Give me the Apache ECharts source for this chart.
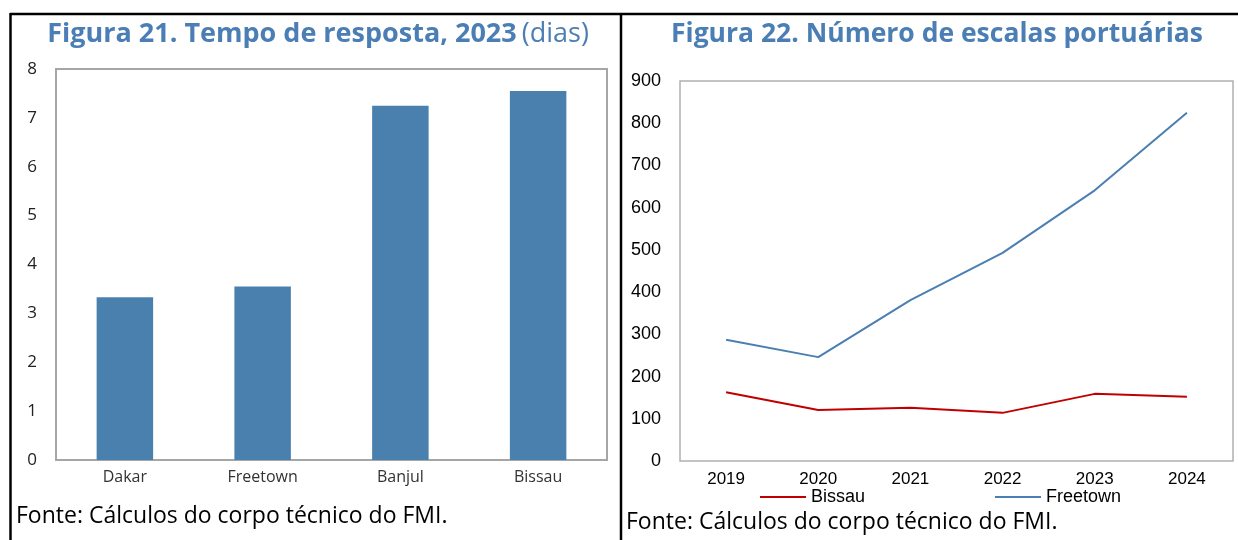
<!DOCTYPE html>
<html>
<head>
<meta charset="utf-8">
<script src="https://cdn.jsdelivr.net/npm/echarts@6/dist/echarts.min.js"></script>
<style>
  html, body { margin: 0; padding: 0; background: #fff; }
  #chart { width: 1238px; height: 540px; }
</style>
</head>
<body>
<div id="chart"></div>
<script>
// Figura 21: tempo de resposta (dias)
const portos = ["Dakar", "Freetown", "Banjul", "Bissau"];
const diasResposta = [3.33, 3.55, 7.25, 7.55];
const ticksDias = [0, 8, 1];

// Figura 22: escalas portuárias
const anos = ["2019", "2020", "2021", "2022", "2023", "2024"];
const escalasBissau = [163, 121, 126, 114, 159, 152];
const escalasFreetown = [287, 246, 381, 493, 641, 825];
const ticksEscalas = [0, 900, 100];

const azulTitulo = "#4a7eb4";
const fonteUI = "'Open Sans', 'Noto Sans', sans-serif";
const fonteArial = "'Liberation Sans', Arial, sans-serif";
const nota = "Fonte: Cálculos do corpo técnico do FMI.";

const chart = echarts.init(document.getElementById("chart"));

const option = {
  animation: false,
  backgroundColor: "#fff",
  title: [
    {
      text: "{b|Figura 21. Tempo de resposta, 2023} {n|(dias)}",
      left: 313, top: 16, textAlign: "center",
      textStyle: {
        rich: {
          b: { fontFamily: fonteUI, fontSize: 27, fontWeight: "bold", color: azulTitulo },
          n: { fontFamily: fonteUI, fontSize: 27, fontWeight: "normal", color: azulTitulo }
        }
      }
    },
    {
      text: "Figura 22. Número de escalas portuárias",
      left: 932, top: 16, textAlign: "center",
      textStyle: { fontFamily: fonteUI, fontSize: 26.5, fontWeight: "bold", color: azulTitulo }
    }
  ],
  legend: [
    {
      data: ["Bissau"], left: 755, top: 483,
      icon: "rect", itemWidth: 46, itemHeight: 2,
      textStyle: { fontFamily: fonteArial, fontSize: 18, color: "#000" }
    },
    {
      data: ["Freetown"], left: 990, top: 483,
      icon: "rect", itemWidth: 46, itemHeight: 2,
      textStyle: { fontFamily: fonteArial, fontSize: 18, color: "#000" }
    }
  ],
  grid: [
    { left: 56, top: 69, right: 631, bottom: 80, show: true, borderColor: "#a6a6a6", borderWidth: 2, backgroundColor: "#fff" },
    { left: 680, top: 81, right: 5, bottom: 79, show: true, borderColor: "#b0b0b0", borderWidth: 1.5, backgroundColor: "#fff" }
  ],
  xAxis: [
    {
      gridIndex: 0, type: "category", data: portos,
      axisLine: { show: false }, axisTick: { show: false },
      axisLabel: { fontFamily: fonteUI, fontSize: 16, color: "#333", margin: 9 }
    },
    {
      gridIndex: 1, type: "category", data: anos,
      axisLine: { show: false }, axisTick: { show: false },
      axisLabel: { fontFamily: fonteArial, fontSize: 17, color: "#000", margin: 10 }
    }
  ],
  yAxis: [
    {
      gridIndex: 0, type: "value", min: ticksDias[0], max: ticksDias[1], interval: ticksDias[2],
      axisLine: { show: false }, axisTick: { show: false }, splitLine: { show: false },
      axisLabel: { fontFamily: fonteUI, fontSize: 17, color: "#222", margin: 19 }
    },
    {
      gridIndex: 1, type: "value", min: ticksEscalas[0], max: ticksEscalas[1], interval: ticksEscalas[2],
      axisLine: { show: false }, axisTick: { show: false }, splitLine: { show: false },
      axisLabel: { fontFamily: fonteArial, fontSize: 18, color: "#000", margin: 19 }
    }
  ],
  series: [
    {
      name: "Tempo de resposta", type: "bar", xAxisIndex: 0, yAxisIndex: 0,
      data: diasResposta, barWidth: "41%",
      itemStyle: { color: "#4a80ae" }
    },
    {
      name: "Bissau", type: "line", xAxisIndex: 1, yAxisIndex: 1,
      data: escalasBissau, symbol: "none",
      lineStyle: { color: "#c00000", width: 2 }, itemStyle: { color: "#c00000" }
    },
    {
      name: "Freetown", type: "line", xAxisIndex: 1, yAxisIndex: 1,
      data: escalasFreetown, symbol: "none",
      lineStyle: { color: "#4a7fb2", width: 2 }, itemStyle: { color: "#4a7fb2" }
    }
  ],
  graphic: [
    // molduras pretas
    { type: "line", shape: { x1: 10, y1: 14, x2: 1238, y2: 14 }, style: { stroke: "#000", lineWidth: 2.5 } },
    { type: "line", shape: { x1: 10.5, y1: 13, x2: 10.5, y2: 540 }, style: { stroke: "#000", lineWidth: 2.5 } },
    { type: "line", shape: { x1: 621, y1: 13, x2: 621, y2: 540 }, style: { stroke: "#000", lineWidth: 2.5 } },
    // notas de fonte
    {
      type: "text", left: 16, top: 505,
      style: { text: nota, fontFamily: fonteUI, fontSize: 23, fill: "#000" }
    },
    {
      type: "text", left: 626, top: 511,
      style: { text: nota, fontFamily: fonteUI, fontSize: 23, fill: "#000" }
    }
  ]
};

chart.setOption(option);
</script>
</body>
</html>
